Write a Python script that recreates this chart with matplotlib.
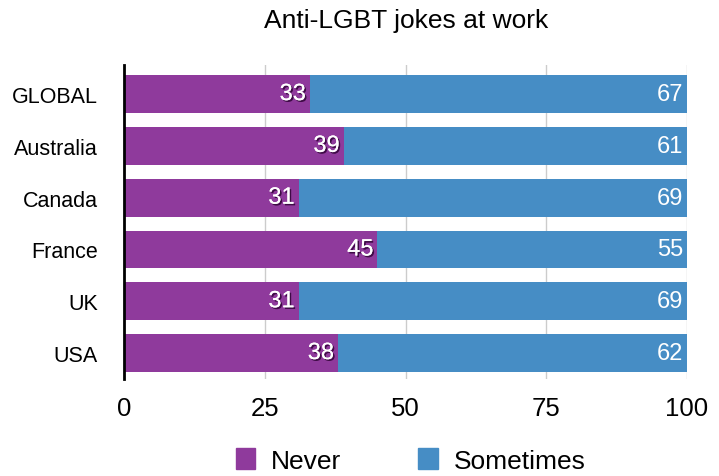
import matplotlib
matplotlib.use('Agg')
import matplotlib.pyplot as plt
import matplotlib.patheffects as pe
from matplotlib.patches import Patch

plt.rcParams['font.family'] = ['Liberation Sans', 'DejaVu Sans']

# Survey results (percent)
countries = ["GLOBAL", "Australia", "Canada", "France", "UK", "USA"]
never = [33, 39, 31, 45, 31, 38]
sometimes = [67, 61, 69, 55, 69, 62]
ticks = [0, 25, 50, 75, 100]

purple = "#8f3a9c"
blue = "#468dc5"

fig = plt.figure(figsize=(7.19, 4.77), dpi=100)
ax = fig.add_axes([0.1725, 0.2034, 0.783, 0.658])

ypos = list(range(len(countries)))
ax.barh(ypos, never, height=0.73, color=purple, zorder=2)
ax.barh(ypos, sometimes, left=never, height=0.73, color=blue, zorder=2)

# white numbers, the purple ones get a dark drop shadow
shadow = [pe.withSimplePatchShadow(offset=(1.2, -1.2), shadow_rgbFace='#2a0030', alpha=0.8), pe.Normal()]
for y, n, s in zip(ypos, never, sometimes):
    ax.text(n - 0.7, y, str(n), ha='right', va='center', color='white',
            fontsize=17, zorder=3, path_effects=shadow)
    ax.text(n + s - 0.7, y, str(s), ha='right', va='center', color='white',
            fontsize=17, zorder=3)

ax.set_xlim(0, 100)
ax.set_ylim(5.5, -0.56)
ax.set_yticks(ypos)
ax.set_yticklabels(countries, fontsize=15.5)
ax.set_xticks(ticks)
ax.set_xticklabels([str(t) for t in ticks], fontsize=18.5)
ax.tick_params(axis='y', length=0, pad=19)
ax.tick_params(axis='x', length=0, pad=12)

for t in ticks[1:]:
    ax.axvline(t, color='#cccccc', lw=1, zorder=1)
for side in ['top', 'right', 'bottom']:
    ax.spines[side].set_visible(False)
ax.spines['left'].set_linewidth(2)
ax.spines['left'].set_color('black')
ax.spines['left'].set_zorder(4)

fig.text(0.5655, 0.955, "Anti-LGBT jokes at work", fontsize=19, ha='center', va='center')

handles = [Patch(color=purple, label="Never"), Patch(color=blue, label="Sometimes")]
fig.legend(handles=handles, loc='center', bbox_to_anchor=(0.571, 0.033), ncol=2,
           frameon=False, fontsize=19, handlelength=0.75, handleheight=0.85,
           handletextpad=0.6, columnspacing=2.9)

fig.savefig("out.png", dpi=100)
